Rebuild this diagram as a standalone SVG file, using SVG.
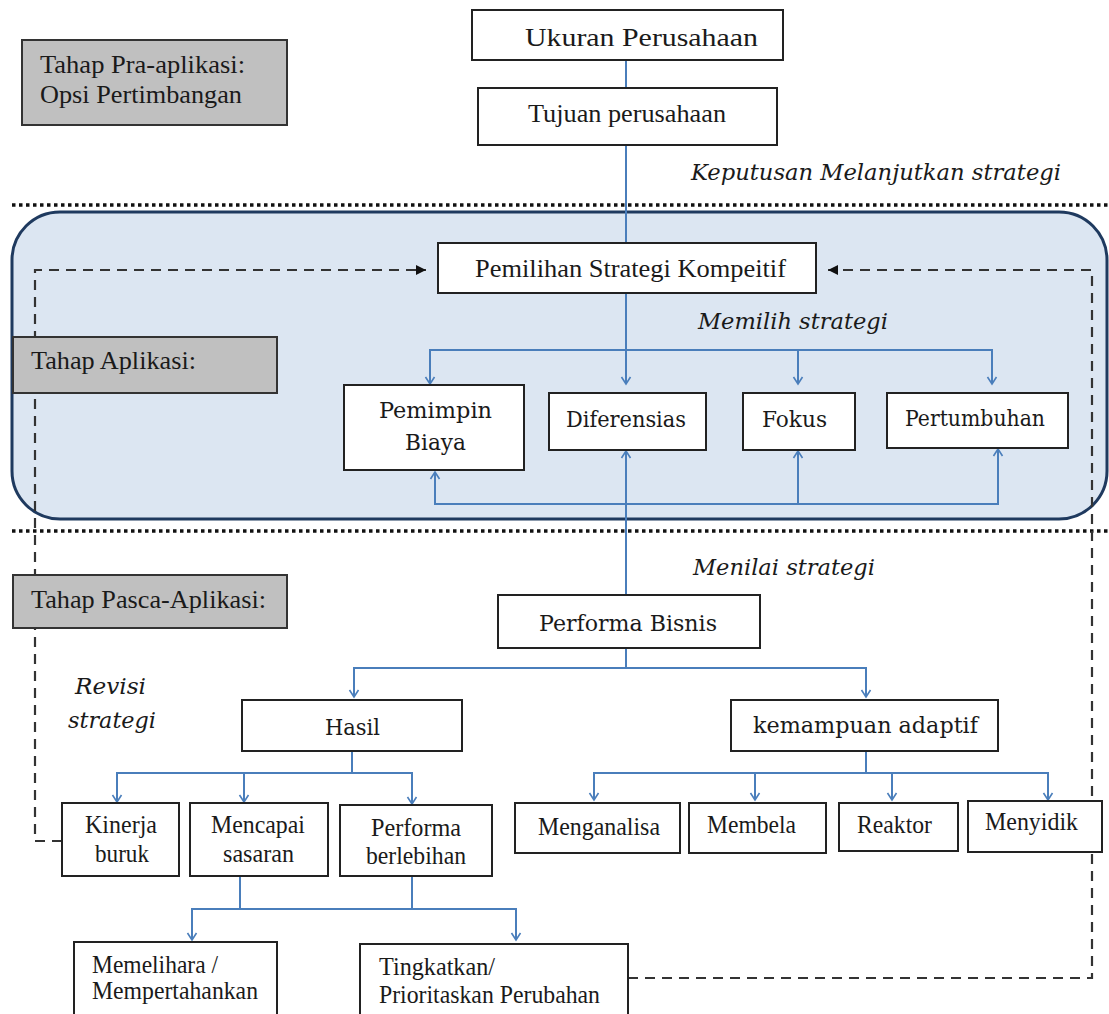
<svg xmlns="http://www.w3.org/2000/svg" width="1109" height="1014" viewBox="0 0 1109 1014">
<style>
.box{fill:#fff;stroke:#222;stroke-width:2}
.gray{fill:#c0c0c0;stroke:#333;stroke-width:2}
.t{font-family:"Liberation Serif","Times New Roman",serif;font-size:25px;fill:#1a1a1a}
.c{font-family:"DejaVu Serif","Liberation Serif",serif;font-size:22px;fill:#1a1a1a}
.i{font-family:"DejaVu Serif","Liberation Serif",serif;font-size:22px;font-style:italic;fill:#1a1a1a}
.blue{fill:none;stroke:#4a7ebb;stroke-width:2}
.ba{marker-end:url(#bArrow)}
.dash{fill:none;stroke:#333;stroke-width:2.2;stroke-dasharray:10 7}
.dot{fill:none;stroke:#111;stroke-width:3.5;stroke-dasharray:3.5 3.5}
</style>
<defs>
<marker id="bArrow" viewBox="-9 -6 11 12" refX="0" refY="0" markerWidth="11" markerHeight="12" markerUnits="userSpaceOnUse" orient="auto">
<path d="M-7,-4.5 L0,0 L-7,4.5" fill="none" stroke="#4a7ebb" stroke-width="1.6"/>
</marker>
<marker id="kArrow" viewBox="-11 -6 12 12" refX="0" refY="0" markerWidth="12" markerHeight="12" markerUnits="userSpaceOnUse" orient="auto">
<path d="M-10,-5 L0,0 L-10,5 Z" fill="#111"/>
</marker>
</defs>

<g id="phase-aplikasi-area">
<rect x="12" y="212" width="1095" height="307" rx="48" ry="48" fill="#dce6f2" stroke="#1f3a5f" stroke-width="3"/>
</g>
<g id="separators">
<line class="dot" x1="12" y1="205" x2="1109" y2="205"/>
<line class="dot" x1="12" y1="531" x2="1109" y2="531"/>
</g>

<g id="connectors">
<path class="dash" d="M62,841 H35 V270 H426" marker-end="url(#kArrow)"/>
<path class="dash" d="M628,978 H1092 V270 H828" marker-end="url(#kArrow)"/>
<path class="blue" d="M626,60 V88"/>
<path class="blue" d="M626,145 V243"/>
<path class="blue ba" d="M626,293 V384"/>
<path class="blue ba" d="M626,350 H430 V384"/>
<path class="blue ba" d="M626,350 H992 V384"/>
<path class="blue ba" d="M798,350 V384"/>
<path class="blue ba" d="M626,598 V451"/>
<path class="blue ba" d="M626,504 H435 V472"/>
<path class="blue ba" d="M626,504 H998 V449"/>
<path class="blue ba" d="M798,504 V451"/>
<path class="blue ba" d="M626,648 V668 H354 V697"/>
<path class="blue ba" d="M626,668 H866 V697"/>
<path class="blue ba" d="M352,751 V773 H117 V802"/>
<path class="blue ba" d="M352,773 H412 V804"/>
<path class="blue ba" d="M244,773 V802"/>
<path class="blue ba" d="M866,751 V773 H594 V800"/>
<path class="blue ba" d="M866,773 H1048 V800"/>
<path class="blue ba" d="M755,773 V800"/>
<path class="blue ba" d="M892,773 V800"/>
<path class="blue ba" d="M240,876 V909 H192 V940"/>
<path class="blue ba" d="M240,909 H516 V940"/>
<path class="blue" d="M412,876 V909"/>
</g>

<g id="label-pra">
<rect class="gray" x="22" y="40" width="265" height="85"/>
<text class="t" x="40" y="73" textLength="205" lengthAdjust="spacingAndGlyphs">Tahap Pra-aplikasi:</text>
<text class="t" x="40" y="103" textLength="202" lengthAdjust="spacingAndGlyphs">Opsi Pertimbangan</text>
</g>
<g id="label-aplikasi">
<rect class="gray" x="13" y="337" width="264" height="56"/>
<text class="t" x="31" y="369" textLength="165" lengthAdjust="spacingAndGlyphs">Tahap Aplikasi:</text>
</g>
<g id="label-pasca">
<rect class="gray" x="13" y="575" width="274" height="53"/>
<text class="t" x="31" y="608" textLength="235" lengthAdjust="spacingAndGlyphs">Tahap Pasca-Aplikasi:</text>
</g>

<g id="ukuran">
<rect class="box" x="472" y="10" width="311" height="50"/>
<text class="t" x="525" y="46" textLength="233" lengthAdjust="spacingAndGlyphs">Ukuran Perusahaan</text>
</g>
<g id="tujuan">
<rect class="box" x="478" y="88" width="299" height="57"/>
<text class="t" x="528" y="122" textLength="198" lengthAdjust="spacingAndGlyphs">Tujuan perusahaan</text>
</g>
<g id="lbl-keputusan">
<text class="i" x="691" y="180" textLength="370" lengthAdjust="spacingAndGlyphs">Keputusan Melanjutkan strategi</text>
</g>
<g id="pemilihan">
<rect class="box" x="438" y="243" width="378" height="50"/>
<text class="t" x="475" y="277" textLength="311" lengthAdjust="spacingAndGlyphs">Pemilihan Strategi Kompeitif</text>
</g>
<g id="lbl-memilih">
<text class="i" x="698" y="329" textLength="190" lengthAdjust="spacingAndGlyphs">Memilih strategi</text>
</g>
<g id="pemimpin-biaya">
<rect class="box" x="344" y="385" width="180" height="85"/>
<text class="c" x="379" y="418" textLength="113" lengthAdjust="spacingAndGlyphs">Pemimpin</text>
<text class="c" x="405" y="450" textLength="61" lengthAdjust="spacingAndGlyphs">Biaya</text>
</g>
<g id="diferensias">
<rect class="box" x="549" y="393" width="157" height="57"/>
<text class="c" x="566" y="427" textLength="120" lengthAdjust="spacingAndGlyphs">Diferensias</text>
</g>
<g id="fokus">
<rect class="box" x="743" y="393" width="112" height="57"/>
<text class="c" x="762" y="427" textLength="65" lengthAdjust="spacingAndGlyphs">Fokus</text>
</g>
<g id="pertumbuhan">
<rect class="box" x="887" y="393" width="181" height="55"/>
<text class="c" x="905" y="426" textLength="140" lengthAdjust="spacingAndGlyphs">Pertumbuhan</text>
</g>
<g id="lbl-menilai">
<text class="i" x="693" y="575" textLength="182" lengthAdjust="spacingAndGlyphs">Menilai strategi</text>
</g>
<g id="performa-bisnis">
<rect class="box" x="498" y="595" width="262" height="53"/>
<text class="c" x="539" y="631" textLength="178" lengthAdjust="spacingAndGlyphs">Performa Bisnis</text>
</g>
<g id="lbl-revisi">
<text class="i" x="75" y="694" textLength="71" lengthAdjust="spacingAndGlyphs">Revisi</text>
<text class="i" x="68" y="728" textLength="88" lengthAdjust="spacingAndGlyphs">strategi</text>
</g>
<g id="hasil">
<rect class="box" x="242" y="700" width="220" height="51"/>
<text class="c" x="325" y="735" textLength="55" lengthAdjust="spacingAndGlyphs">Hasil</text>
</g>
<g id="kemampuan-adaptif">
<rect class="box" x="731" y="700" width="267" height="51"/>
<text class="c" x="753" y="733" textLength="225" lengthAdjust="spacingAndGlyphs">kemampuan adaptif</text>
</g>
<g id="kinerja-buruk">
<rect class="box" x="62" y="803" width="117" height="73"/>
<text class="t" x="85" y="833" textLength="72" lengthAdjust="spacingAndGlyphs">Kinerja</text>
<text class="t" x="95" y="862" textLength="54" lengthAdjust="spacingAndGlyphs">buruk</text>
</g>
<g id="mencapai-sasaran">
<rect class="box" x="190" y="803" width="138" height="73"/>
<text class="t" x="211" y="833" textLength="94" lengthAdjust="spacingAndGlyphs">Mencapai</text>
<text class="t" x="223" y="862" textLength="71" lengthAdjust="spacingAndGlyphs">sasaran</text>
</g>
<g id="performa-berlebihan">
<rect class="box" x="340" y="805" width="152" height="71"/>
<text class="t" x="371" y="836" textLength="90" lengthAdjust="spacingAndGlyphs">Performa</text>
<text class="t" x="366" y="864" textLength="100" lengthAdjust="spacingAndGlyphs">berlebihan</text>
</g>
<g id="menganalisa">
<rect class="box" x="515" y="803" width="165" height="50"/>
<text class="t" x="538" y="835" textLength="122" lengthAdjust="spacingAndGlyphs">Menganalisa</text>
</g>
<g id="membela">
<rect class="box" x="689" y="803" width="137" height="50"/>
<text class="t" x="707" y="833" textLength="89" lengthAdjust="spacingAndGlyphs">Membela</text>
</g>
<g id="reaktor">
<rect class="box" x="839" y="803" width="119" height="48"/>
<text class="t" x="857" y="833" textLength="75" lengthAdjust="spacingAndGlyphs">Reaktor</text>
</g>
<g id="menyidik">
<rect class="box" x="968" y="801" width="134" height="51"/>
<text class="t" x="985" y="830" textLength="93" lengthAdjust="spacingAndGlyphs">Menyidik</text>
</g>
<g id="memelihara">
<rect class="box" x="74" y="942" width="203" height="80"/>
<text class="t" x="92" y="973" textLength="126" lengthAdjust="spacingAndGlyphs">Memelihara /</text>
<text class="t" x="92" y="999" textLength="166" lengthAdjust="spacingAndGlyphs">Mempertahankan</text>
</g>
<g id="tingkatkan">
<rect class="box" x="360" y="944" width="268" height="80"/>
<text class="t" x="379" y="975" textLength="116" lengthAdjust="spacingAndGlyphs">Tingkatkan/</text>
<text class="t" x="379" y="1003" textLength="221" lengthAdjust="spacingAndGlyphs">Prioritaskan Perubahan</text>
</g>
</svg>
